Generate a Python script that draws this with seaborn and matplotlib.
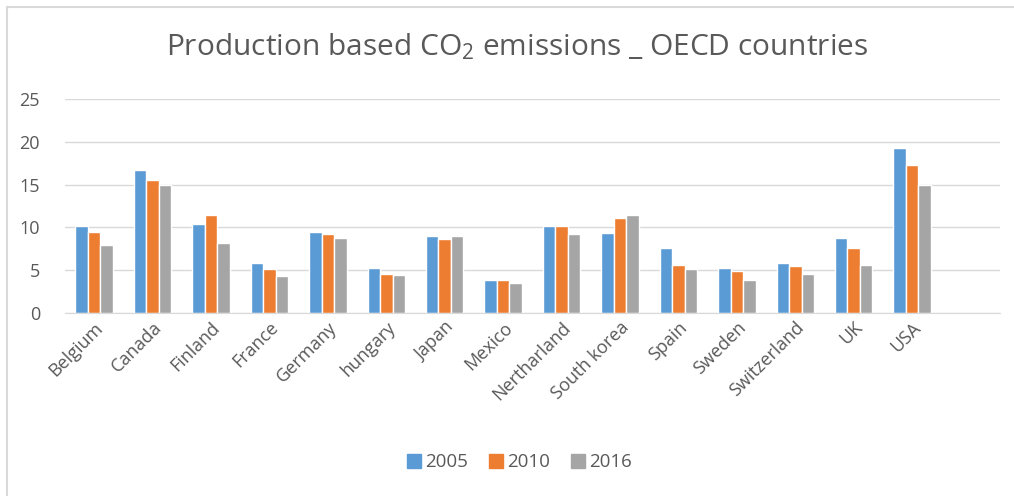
import pandas as pd
import numpy as np
import matplotlib
matplotlib.use("Agg")
import matplotlib.pyplot as plt
import seaborn as sns
from matplotlib.lines import Line2D

# data
countries = ['Belgium', 'Canada', 'Finland', 'France', 'Germany', 'hungary', 'Japan',
             'Mexico', 'Nertharland', 'South korea', 'Spain', 'Sweden', 'Switzerland', 'UK', 'USA']
years = ['2005', '2010', '2016']
v2005 = [10.2, 16.7, 10.4, 5.8, 9.5, 5.3, 9.0, 3.8, 10.2, 9.4, 7.6, 5.3, 5.9, 8.8, 19.3]
v2010 = [9.5, 15.5, 11.5, 5.2, 9.2, 4.6, 8.6, 3.8, 10.2, 11.1, 5.6, 4.9, 5.5, 7.6, 17.3]
v2016 = [8.0, 15.0, 8.2, 4.3, 8.8, 4.4, 9.0, 3.5, 9.2, 11.5, 5.1, 3.8, 4.5, 5.6, 15.0]
colors = ['#5B9BD5', '#ED7D31', '#A5A5A5']

df = pd.DataFrame({'country': countries * 3,
                   'year': np.repeat(years, len(countries)),
                   'value': v2005 + v2010 + v2016})

sns.set_style("white")
plt.rcParams['font.family'] = ['Open Sans', 'DejaVu Sans']
plt.rcParams['mathtext.fontset'] = 'custom'
plt.rcParams['mathtext.rm'] = 'Open Sans'
plt.rcParams['mathtext.it'] = 'Open Sans'

fig = plt.figure(figsize=(10.14, 4.96), dpi=100)
ax = fig.add_axes([0.064, 0.369, 0.922, 0.431])

# an empty slot after USA, like the original chart
order = countries + [' ']
sns.barplot(data=df, x='country', y='value', hue='year', order=order,
            palette=colors, saturation=1, width=0.64, edgecolor='white', linewidth=1.0,
            ax=ax, legend=False)

ax.set_ylim(0, 25)
ax.set_yticks(range(0, 26, 5))
ax.set_xlim(-0.5, len(order) - 0.5)
ax.yaxis.grid(True, color='#D9D9D9', linewidth=1.0)
ax.set_axisbelow(True)
for s in ['top', 'right', 'left']:
    ax.spines[s].set_visible(False)
ax.spines['bottom'].set_color('#D9D9D9')
ax.set_xlabel('')
ax.set_ylabel('')
ax.tick_params(axis='y', length=0, pad=18, labelsize=13, labelcolor='#595959')
ax.tick_params(axis='x', length=0, pad=4, labelsize=13, labelcolor='#595959')
plt.setp(ax.get_xticklabels(), rotation=45, ha='right', rotation_mode='anchor')

fig.text(0.51, 0.905, r'Production based CO$_{\mathrm{2}}$ emissions _ OECD countries',
         ha='center', va='center', fontsize=21.5, color='#595959')

handles = [Line2D([], [], marker='s', linestyle='', markersize=10,
                  markerfacecolor=c, markeredgecolor=c) for c in colors]
fig.legend(handles, years, loc='center', bbox_to_anchor=(0.51, 0.068), ncol=3,
           frameon=False, fontsize=13.5, labelcolor='#595959', handletextpad=0.0,
           handlelength=1.2, columnspacing=0.9)

# outer chart border (top and left visible)
fig.add_artist(Line2D([6.5 / 1014, 1.0], [1 - 6.5 / 496, 1 - 6.5 / 496],
                      color='#D9D9D9', linewidth=1.5, transform=fig.transFigure))
fig.add_artist(Line2D([6.5 / 1014, 6.5 / 1014], [0, 1 - 6.5 / 496],
                      color='#D9D9D9', linewidth=1.5, transform=fig.transFigure))

plt.savefig("out.png", dpi=100)
plt.close()
